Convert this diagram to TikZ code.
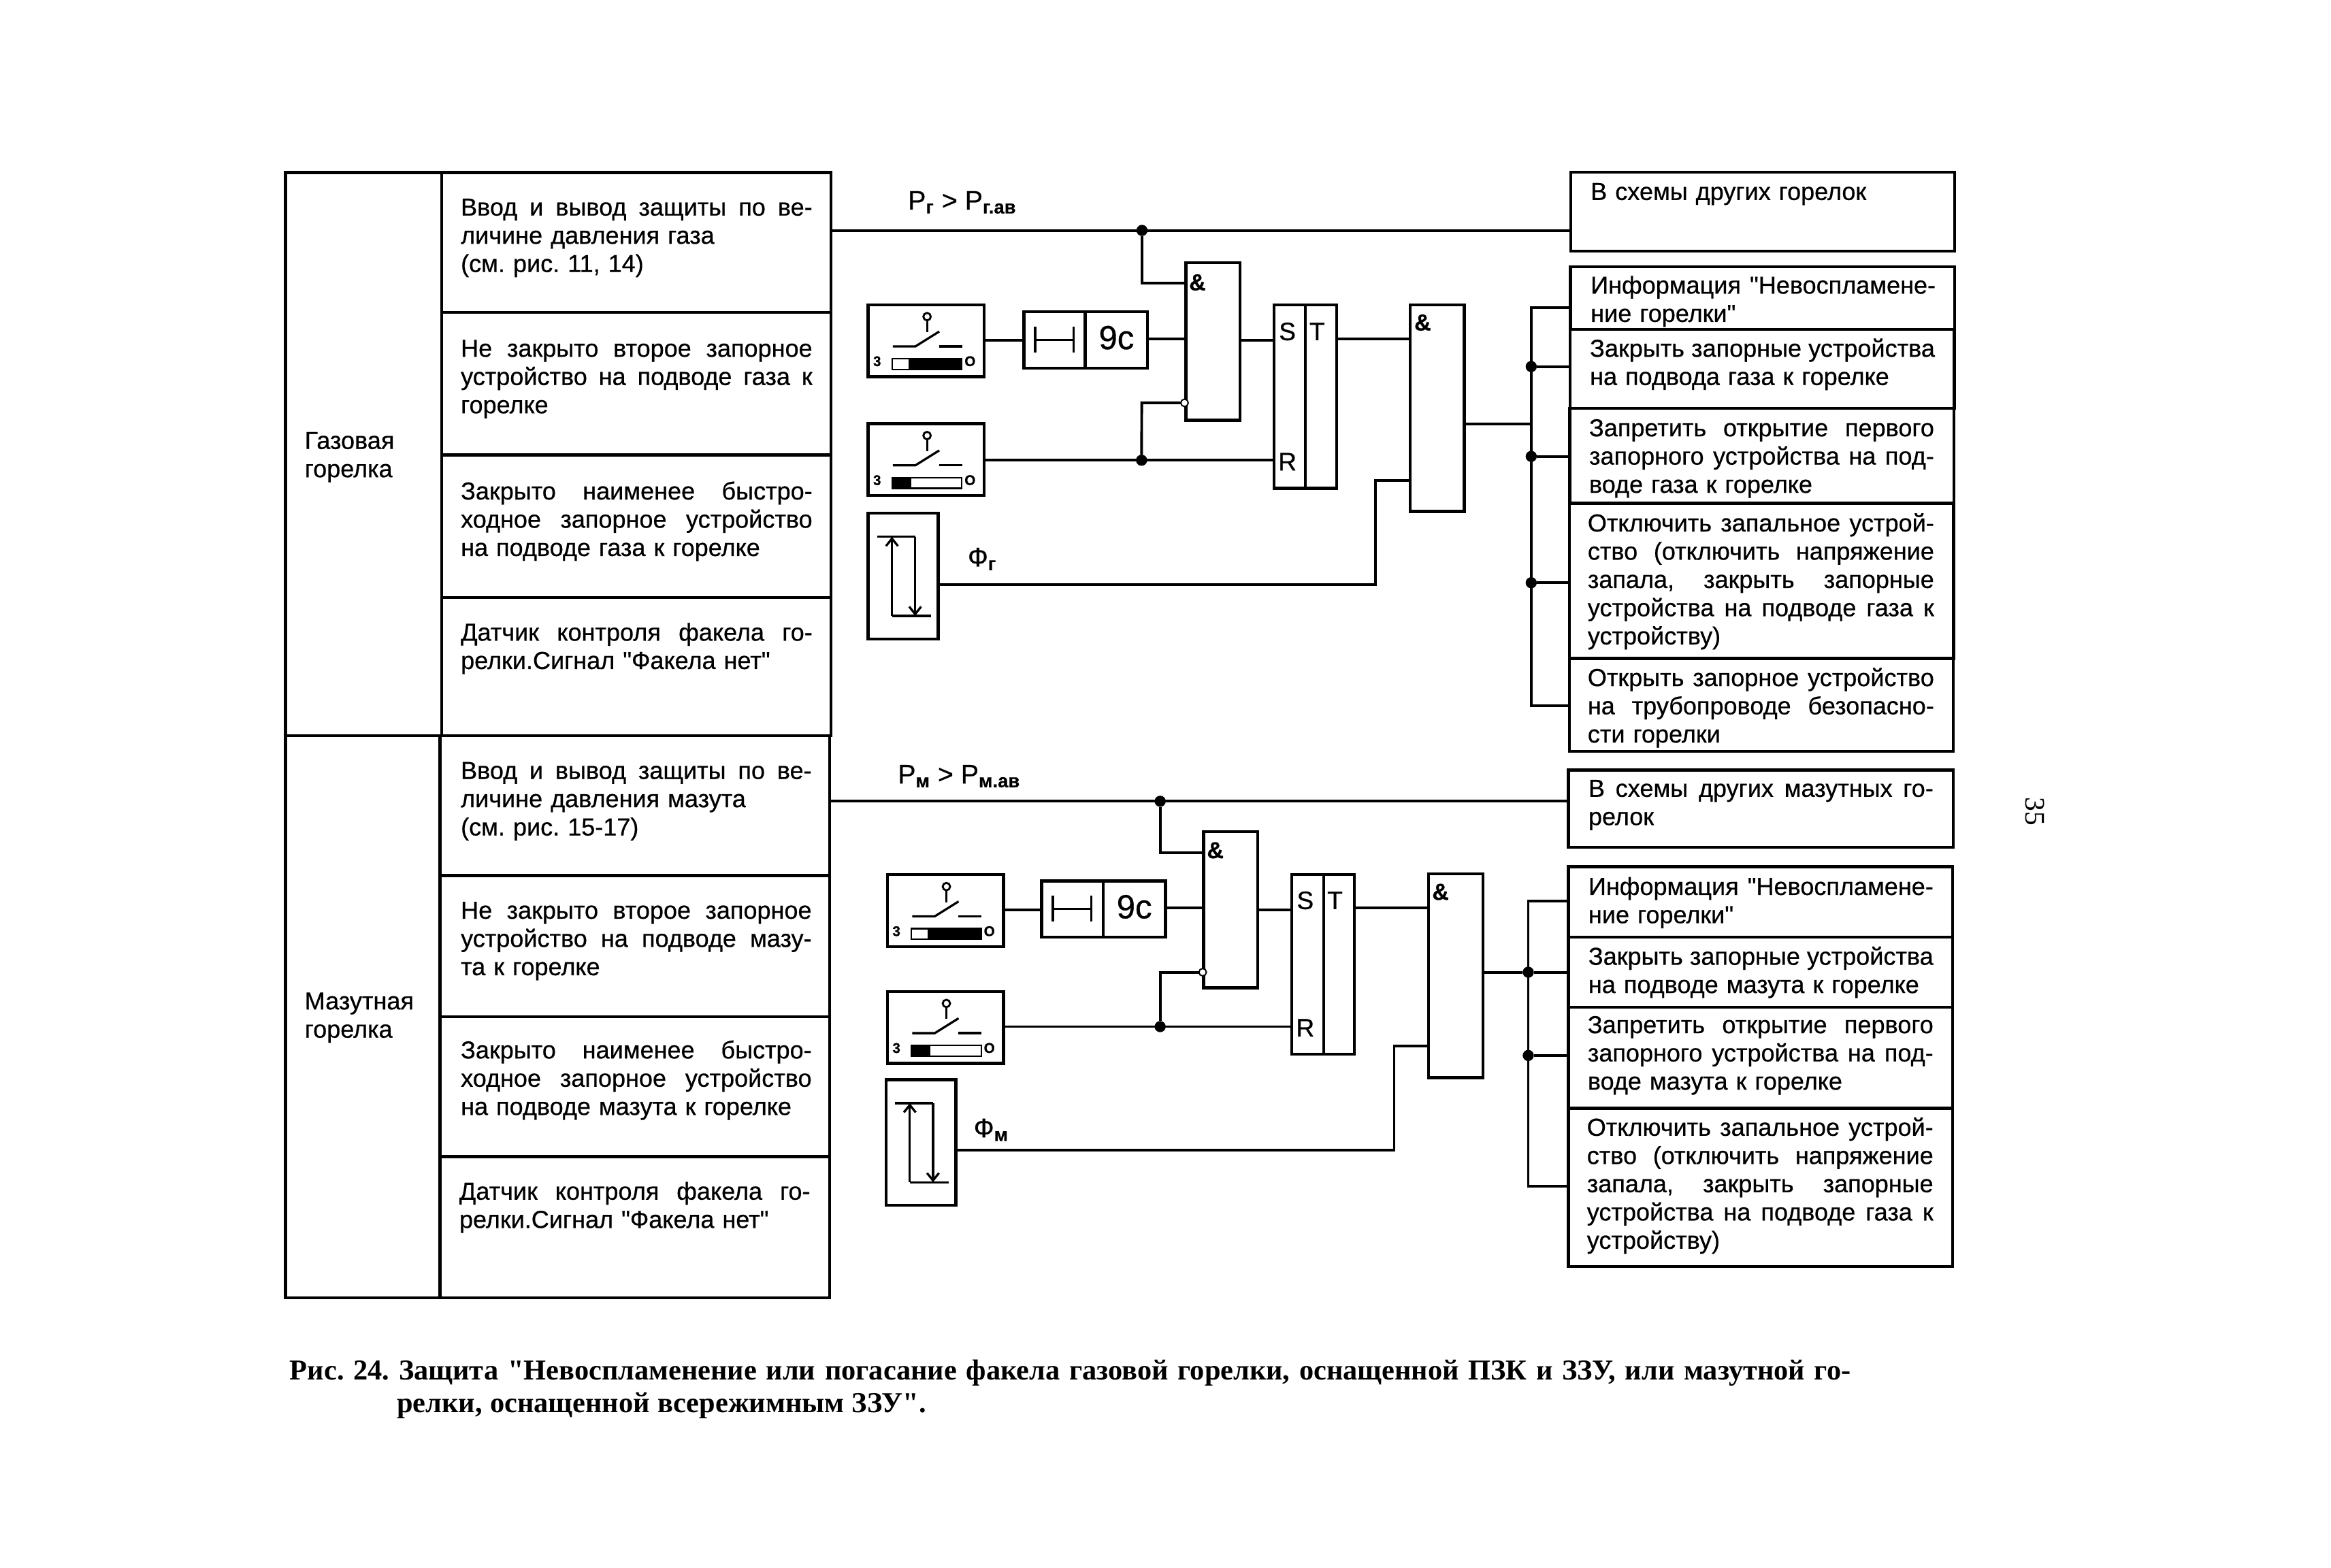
\documentclass[tikz,border=0pt]{standalone}
\usepackage{fontspec}
\setmainfont{Liberation Sans}
\newfontfamily\bodyfont[FakeBold=0.6]{Liberation Sans}
\newfontfamily\capfont{Liberation Serif}
\usetikzlibrary{arrows.meta,calc}
\newcommand{\jl}[1]{\leavevmode\hbox to \jwd{\spaceskip=.278em plus 1fil minus .1em\relax #1}}
% \bx{style}{name}{x1}{y1}{x2}{y2}
\newcommand{\bx}[6]{%
  \pgfmathsetmacro{\bw}{#5-#3}\pgfmathsetmacro{\bh}{#6-#4}%
  \pgfmathsetmacro{\bcx}{(#3+#5)/2}\pgfmathsetmacro{\bcy}{(#4+#6)/2}%
  \node[#1,minimum width=\bw pt,minimum height=\bh pt] (#2) at (\bcx,\bcy) {};}
\newcommand{\ctxt}[5]{\gdef\jwd{#4pt}\node[celltext,text width=#4pt] (#1) at (#2,#3) {\rule{0pt}{15pt}#5};}
\tikzset{
  x=1pt,y=-1pt,
  ln/.style={line width=1.8pt,black},
  box/.style={draw=black,line width=2pt,rectangle,inner sep=0,outer sep=0,fill=none},
  celltext/.style={anchor=north west,inner sep=0,outer sep=0,align=left,text=black,font=\bodyfont\fontsize{16.5}{19}\selectfont\frenchspacing},
  dot/.style={circle,fill=black,draw=none,minimum size=7.5pt,inner sep=0,outer sep=0},
  odot/.style={circle,fill=white,draw=black,line width=0.9pt,minimum size=5pt,inner sep=0,outer sep=0},
  lab/.style={inner sep=0,outer sep=0,text=black},
  thin/.style={line width=1.5pt,black},
  barb/.style={-{Straight Barb[length=5pt,width=8pt]}},
  sw/.style={inner sep=0,outer sep=0,font=\bodyfont\fontsize{9.5}{9.5}\selectfont\bfseries},
  amp/.style={lab,font=\bodyfont\fontsize{15.6}{15.6}\selectfont\bfseries},
  srl/.style={lab,font=\bodyfont\fontsize{17}{17}\selectfont},
  sig/.style={lab,anchor=base west,font=\bodyfont\fontsize{18}{18}\selectfont},
  capt/.style={lab,anchor=base west,font=\capfont\fontsize{19.4}{19.4}\selectfont\bfseries\frenchspacing},
}
% switch: #1 name, #2 x-left, #3 y-top, #4 black from, #5 black to
\newcommand{\switch}[5]{%
  \bx{box}{#1}{#2}{#3}{#2+78}{#3+48.4}
  \begin{scope}[shift={(#2,#3)}]
    \node[circle,draw=black,line width=1.3pt,minimum size=5pt,inner sep=0,outer sep=0] (#1p) at (39.6,8) {};
    \coordinate (#1a) at (16.6,28);
    \coordinate (#1b) at (31.8,28);
    \coordinate (#1c) at (47.8,18);
    \coordinate (#1d) at (47.8,28);
    \coordinate (#1e) at (63.3,28);
    \coordinate (#1s) at (39.6,18.5);
    \draw[thin] (#1p) -- (#1s);
    \draw[thin] (#1a) -- (#1b) -- (#1c);
    \draw[thin] (#1d) -- (#1e);
    \node[sw] (#1z) at (6,38) {3};
    \node[sw] (#1o) at (68.5,38) {O};
    \bx{draw=black,line width=1pt,inner sep=0,outer sep=0,fill=white}{#1bar}{16}{36.3}{63}{43.5}
    \fill[black] (#4,36.3) rectangle (#5,43.5);
  \end{scope}}
% sensor: #1 name, #2 x-left, #3 y-top
\newcommand{\sensor}[3]{%
  \bx{box}{#1}{#2}{#3}{#2+47}{#3+84.5}
  \begin{scope}[shift={(#2,#3)}]
    \coordinate (#1a) at (6,15.8);
    \coordinate (#1b) at (31.6,15.8);
    \coordinate (#1c) at (31.6,69);
    \coordinate (#1d) at (16,69);
    \coordinate (#1e) at (16,15.8);
    \coordinate (#1f) at (42.4,69);
    \draw[thin] (#1a) -- (#1b);
    \draw[thin,barb] (#1b) -- (#1c);
    \draw[thin] (#1d) -- (#1f);
    \draw[thin,barb] (#1d) -- (#1e);
  \end{scope}}
% timer: #1 name, x1,y1,x2,y2, divider
\newcommand{\timer}[6]{%
  \bx{box}{#1}{#2}{#3}{#4}{#5}
  \coordinate (#1d1) at (#6,#3); \coordinate (#1d2) at (#6,#5);
  \draw[box] (#1d1) -- (#1d2);
  \node[lab,font=\bodyfont\fontsize{22.5}{22.5}\selectfont] (#1t) at ({(#6+#4)/2},{(#3+#5)/2-1.5}) {9с};
  \coordinate (#1l1) at (#2+7.5,{(#3+#5)/2-9}); \coordinate (#1l2) at (#2+7.5,{(#3+#5)/2+8.5});
  \coordinate (#1r1) at (#2+33.5,{(#3+#5)/2-9}); \coordinate (#1r2) at (#2+33.5,{(#3+#5)/2+8.5});
  \draw[thin] (#1l1) -- (#1l2); \draw[thin] (#1r1) -- (#1r2);
  \coordinate (#1m1) at (#2+7.5,{(#3+#5)/2}); \coordinate (#1m2) at (#2+33.5,{(#3+#5)/2});
  \draw[thin] (#1m1) -- (#1m2);}
\begin{document}
\begin{tikzpicture}
\path[use as bounding box,fill=white] (0,0) rectangle (1568,1054.4);

% ---------- left table
\bx{box}{outer1}{192}{116}{297}{495}
\bx{box}{outer2}{192}{495}{296}{873}
\bx{box}{c1}{297}{116}{559}{210}
\bx{box}{c2}{297}{210}{559}{306}
\bx{box}{c3}{297}{306}{559}{402}
\bx{box}{c4}{297}{402}{559}{495}
\bx{box}{c5}{296}{495}{558}{589}
\bx{box}{c6}{296}{589}{558}{684}
\bx{box}{c7}{296}{684}{558}{778}
\bx{box}{c8}{296}{778}{558}{873}
\ctxt{g1}{205}{287}{75}{Газовая\\горелка}
\ctxt{g2}{205}{664}{80}{Мазутная\\горелка}
\ctxt{t1}{310}{130}{236.5}{\jl{Ввод и вывод защиты по ве-}\\личине давления газа\\(см. рис. 11, 14)}
\ctxt{t2}{310}{225}{236.5}{\jl{Не закрыто второе запорное}\\\jl{устройство на подводе газа к}\\горелке}
\ctxt{t3}{310}{321}{236.5}{\jl{Закрыто наименее быстро-}\\\jl{ходное запорное устройство}\\на подводе газа к горелке}
\ctxt{t4}{310}{416}{236.5}{\jl{Датчик контроля факела го-}\\релки.Сигнал "Факела нет"}
\ctxt{t5}{310}{509}{236}{\jl{Ввод и вывод защиты по ве-}\\личине давления мазута\\(см. рис. 15-17)}
\ctxt{t6}{310}{603}{236}{\jl{Не закрыто второе запорное}\\\jl{устройство на подводе мазу-}\\та к горелке}
\ctxt{t7}{310}{697}{236}{\jl{Закрыто наименее быстро-}\\\jl{ходное запорное устройство}\\на подводе мазута к горелке}
\ctxt{t8}{309}{792}{236}{\jl{Датчик контроля факела го-}\\релки.Сигнал "Факела нет"}

% ---------- upper logic
\switch{sa}{584}{205}{27}{63}
\switch{sb}{584}{285}{16}{29}
\sensor{fa}{584}{345.3}
\timer{ta}{688.8}{209.7}{772}{247.6}{730}
\bx{box}{anda}{797.7}{176.7}{834}{282.7}
\bx{box}{sra}{857}{205}{899}{328.5}
\coordinate (srad1) at (878,205); \coordinate (srad2) at (878,328.5);
\draw[box] (srad1) -- (srad2);
\bx{box}{andb}{948.6}{205}{985}{344}
\node[amp] (amp1) at (805.5,190) {\&};
\node[amp] (amp2) at (957,217) {\&};
\node[srl] (sS) at (866,223) {S};
\node[srl] (sT) at (886,223) {T};
\node[srl] (sR) at (866,310.6) {R};
\node[sig] (pg) at (610.8,141) {P\textsubscript{\bfseries г} > P\textsubscript{\bfseries г.ав}};
\node[sig] (fg) at (651,381) {Ф\textsubscript{\bfseries г}};

\bx{box}{ra}{1056.6}{115.7}{1314.7}{169}
\bx{box}{ga}{1056.4}{179.5}{1314.7}{221.6}
\bx{box}{gb}{1056.2}{221.6}{1314.5}{274.7}
\bx{box}{gc}{1056}{274.7}{1314.4}{338.5}
\bx{box}{gd}{1055.8}{338.5}{1314.2}{443}
\bx{box}{ge}{1055.6}{443}{1314}{505.4}
\ctxt{ra t}{1070}{119.5}{232}{В схемы других горелок}
\ctxt{ga t}{1070}{182.5}{232}{\jl{Информация "Невоспламене-}\\ние горелки"}
\ctxt{gb t}{1069.5}{225}{232}{\jl{Закрыть запорные устройства}\\на подвода газа к горелке}
\ctxt{gc t}{1069}{278.5}{232}{\jl{Запретить открытие первого}\\\jl{запорного устройства на под-}\\воде газа к горелке}
\ctxt{gd t}{1068}{342.5}{233}{\jl{Отключить запальное устрой-}\\\jl{ство (отключить напряжение}\\\jl{запала, закрыть запорные}\\\jl{устройства на подводе газа к}\\устройству)}
\ctxt{ge t}{1068}{446.5}{233}{\jl{Открыть запорное устройство}\\\jl{на трубопроводе безопасно-}\\сти горелки}

% upper connectors
\coordinate (ia) at (c1.east|-0,155);
\node[dot] (ja) at (768.2,155) {};
\coordinate (iaout) at (ra.west|-0,155);
\draw[ln] (ia) -- (iaout);
\coordinate (a1) at (768.2,190.4);
\coordinate (a1e) at (anda.west|-a1);
\draw[ln] (ja) -- (a1) -- (a1e);
\coordinate (swta) at (sa.east|-0,229);
\coordinate (swtb) at (ta.west|-0,229);
\draw[ln] (swta) -- (swtb);
\coordinate (tao) at (ta.east|-0,228);
\coordinate (tai) at (anda.west|-0,228);
\draw[ln] (tao) -- (tai);
\coordinate (ao) at (anda.east|-0,229);
\coordinate (si) at (sra.west|-0,229);
\draw[ln] (ao) -- (si);
\node[dot] (jb) at (767.9,309.6) {};
\coordinate (sbo) at (sb.east|-jb);
\coordinate (ri) at (sra.west|-jb);
\draw[ln] (sbo) -- (ri);
\coordinate (invc) at (768,271);
\node[odot] (inva) at (796.8,271) {};
\draw[ln] (jb) -- (invc) -- (inva);
\coordinate (to) at (sra.east|-0,228);
\coordinate (bi) at (andb.west|-0,228);
\draw[ln] (to) -- (bi);
\coordinate (fo) at (fa.east|-0,393.3);
\coordinate (fc) at (925.3,393.3);
\coordinate (fd) at (925.3,323.3);
\coordinate (fe) at (andb.west|-fd);
\draw[ln] (fo) -- (fc) -- (fd) -- (fe);
\coordinate (bo) at (andb.east|-0,285);
\coordinate (busi) at (1030,285);
\draw[ln] (bo) -- (busi);
\coordinate (bt) at (1030,207);
\coordinate (bb) at (1030,474.7);
\draw[ln] (ga.west|-bt) -- (bt) -- (bb) -- (ge.west|-bb);
\node[dot] (d1) at (1030,246.6) {};
\node[dot] (d2) at (1030,307) {};
\node[dot] (d3) at (1030,392) {};
\draw[ln] (d1) -- (gb.west|-d1);
\draw[ln] (d2) -- (gc.west|-d2);
\draw[ln] (d3) -- (gd.west|-d3);

% ---------- lower logic
\switch{sc}{597}{588.4}{27}{63}
\switch{sd}{597}{667}{16}{29}
\sensor{fb}{596}{726.3}
\timer{tb}{700.7}{592.7}{784}{630.3}{742}
\bx{box}{andc}{809.6}{559.4}{846}{664.5}
\bx{box}{srb}{869}{588.4}{911}{709}
\coordinate (srbd1) at (890.5,588.4); \coordinate (srbd2) at (890.5,709);
\draw[box] (srbd1) -- (srbd2);
\bx{box}{andd}{961}{587.8}{997.6}{725}
\node[amp] (amp3) at (817.5,572) {\&};
\node[amp] (amp4) at (969,600) {\&};
\node[srl] (mS) at (878,605.7) {S};
\node[srl] (mT) at (898,605.7) {T};
\node[srl] (mR) at (878,691.4) {R};
\node[sig] (pm) at (604,527) {P\textsubscript{\bfseries м} > P\textsubscript{\bfseries м.ав}};
\node[sig] (fm) at (655,765) {Ф\textsubscript{\bfseries м}};

\bx{box}{rb}{1055}{518}{1314}{570}
\bx{box}{ha}{1055}{583}{1313.5}{630.5}
\bx{box}{hb}{1055}{630.5}{1313.5}{677.5}
\bx{box}{hc}{1055}{677.5}{1313.5}{745.5}
\bx{box}{hd}{1055}{745.5}{1313.5}{852}
\ctxt{rb t}{1068.5}{521}{232}{\jl{В схемы других мазутных го-}\\релок}
\ctxt{ha t}{1068.5}{587}{232}{\jl{Информация "Невоспламене-}\\ние горелки"}
\ctxt{hb t}{1068.5}{634}{232}{\jl{Закрыть запорные устройства}\\на подводе мазута к горелке}
\ctxt{hc t}{1068}{680}{232.5}{\jl{Запретить открытие первого}\\\jl{запорного устройства на под-}\\воде мазута к горелке}
\ctxt{hd t}{1067.5}{749}{233}{\jl{Отключить запальное устрой-}\\\jl{ство (отключить напряжение}\\\jl{запала, закрыть запорные}\\\jl{устройства на подводе газа к}\\устройству)}

% lower connectors
\coordinate (ib) at (c5.east|-0,539);
\node[dot] (jc) at (780.4,539) {};
\coordinate (ibout) at (rb.west|-0,539);
\draw[ln] (ib) -- (ibout);
\coordinate (c1a) at (780.4,573.7);
\coordinate (c1e) at (andc.west|-c1a);
\draw[ln] (jc) -- (c1a) -- (c1e);
\coordinate (swtc) at (sc.east|-0,612);
\coordinate (swtd) at (tb.west|-0,612);
\draw[ln] (swtc) -- (swtd);
\coordinate (tbo) at (tb.east|-0,610.5);
\coordinate (tbi) at (andc.west|-0,610.5);
\draw[ln] (tbo) -- (tbi);
\coordinate (co) at (andc.east|-0,612);
\coordinate (ci) at (srb.west|-0,612);
\draw[ln] (co) -- (ci);
\node[dot] (jd) at (780.4,690.6) {};
\coordinate (sdo) at (sd.east|-jd);
\coordinate (rj) at (srb.west|-jd);
\draw[ln] (sdo) -- (rj);
\coordinate (invd) at (780.4,654);
\node[odot] (invb) at (809,654) {};
\draw[ln] (jd) -- (invd) -- (invb);
\coordinate (tq) at (srb.east|-0,610.5);
\coordinate (di) at (andd.west|-0,610.5);
\draw[ln] (tq) -- (di);
\coordinate (go) at (fb.east|-0,773.8);
\coordinate (gc1) at (937.8,773.8);
\coordinate (gd1) at (937.8,703.8);
\coordinate (ge1) at (andd.west|-gd1);
\draw[ln] (go) -- (gc1) -- (gd1) -- (ge1);
\node[dot] (e1) at (1028,654) {};
\node[dot] (e2) at (1028,710) {};
\coordinate (et) at (1028,606);
\coordinate (eb) at (1028,798);
\draw[ln] (ha.west|-et) -- (et) -- (eb) -- (hd.west|-eb);
\draw[ln] (andd.east|-e1) -- (e1) -- (hb.west|-e1);
\draw[ln] (e2) -- (hc.west|-e2);

% ---------- page number and caption
\node[lab,rotate=-90,font=\capfont\fontsize{19}{19}\selectfont] (pn) at (1369,546) {35};
\node[capt] (cp1) at (195,928) {\gdef\jwd{1050pt}\jl{Рис. 24. Защита "Невоспламенение или погасание факела газовой горелки, оснащенной ПЗК и ЗЗУ, или мазутной го-}};
\node[capt] (cp2) at (267,950) {\gdef\jwd{356pt}\jl{релки, оснащенной всережимным ЗЗУ".}};
\end{tikzpicture}
\end{document}
